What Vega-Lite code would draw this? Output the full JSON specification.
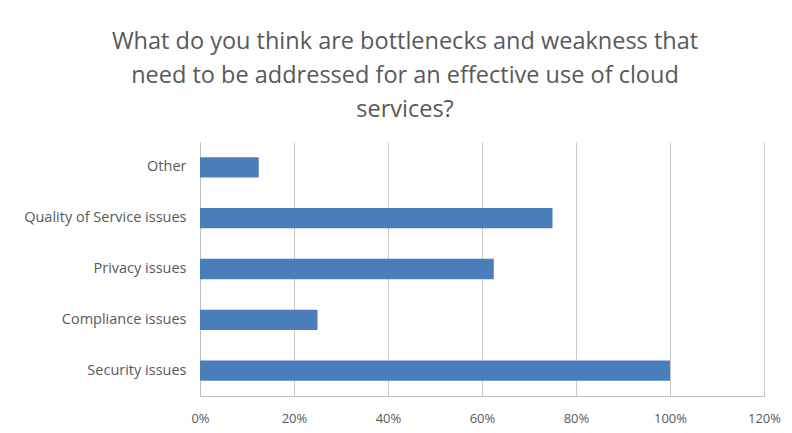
{
  "$schema": "https://vega.github.io/schema/vega-lite/v6.json",
  "autosize": {"type": "none"},
  "width": 564,
  "height": 254,
  "padding": {"left": 200, "top": 142, "right": 28, "bottom": 37},
  "background": "white",
  "title": {
    "text": ["What do you think are bottlenecks and weakness that", "need to be addressed for an effective use of cloud", "services?"],
    "font": "Open Sans",
    "fontSize": 23.5,
    "fontWeight": "normal",
    "color": "#595959",
    "lineHeight": 34,
    "anchor": "middle",
    "frame": "group",
    "dx": -77,
    "offset": 21
  },
  "data": {
    "values": [
      {"category": "Other", "share": 0.125},
      {"category": "Quality of Service issues", "share": 0.75},
      {"category": "Privacy issues", "share": 0.625},
      {"category": "Compliance issues", "share": 0.25},
      {"category": "Security issues", "share": 1.0}
    ]
  },
  "mark": {"type": "bar", "color": "#4a7ebb"},
  "encoding": {
    "y": {
      "field": "category",
      "type": "nominal",
      "sort": ["Other", "Quality of Service issues", "Privacy issues", "Compliance issues", "Security issues"],
      "scale": {"paddingInner": 0.6, "paddingOuter": 0.3},
      "axis": {
        "title": null,
        "ticks": false,
        "domain": true,
        "domainColor": "#bfbfbf",
        "labelFont": "Open Sans",
        "labelFontSize": 14.5,
        "labelColor": "#595959",
        "labelPadding": 14
      }
    },
    "x": {
      "field": "share",
      "type": "quantitative",
      "scale": {"domain": [0, 1.2], "nice": false},
      "axis": {
        "title": null,
        "format": ".0%",
        "values": [0, 0.2, 0.4, 0.6, 0.8, 1.0, 1.2],
        "ticks": false,
        "domain": true,
        "domainColor": "#bfbfbf",
        "grid": true,
        "gridColor": "#c8c8c8",
        "labelFlush": false,
        "labelFont": "Open Sans",
        "labelFontSize": 13,
        "labelColor": "#595959",
        "labelPadding": 16
      }
    }
  },
  "config": {"view": {"stroke": null}}
}
